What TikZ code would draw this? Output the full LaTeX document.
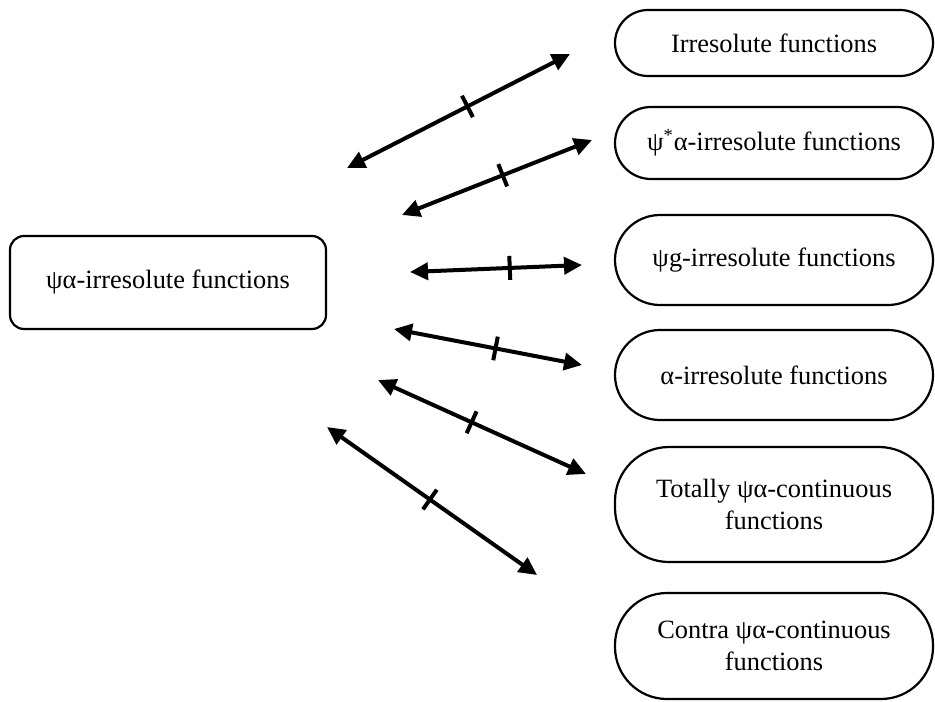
\documentclass[tikz,border=0pt]{standalone}
\usepackage{fontspec}
\setmainfont{Liberation Serif}
\usetikzlibrary{arrows.meta}
\begin{document}
\begin{tikzpicture}[x=0.5pt,y=-0.5pt,
  every node/.style={font=\fontsize{13.2}{16}\selectfont, align=center, inner sep=0pt},
  mainbox/.style={draw, line width=1.1pt, rounded corners=7pt, minimum width=158pt, minimum height=46.5pt},
  pill/.style={draw, line width=1.1pt, minimum width=159pt},
  dbl/.style={line width=2pt, {Triangle[length=9pt,width=8.5pt]}-{Triangle[length=9pt,width=8.5pt]}},
  tickmark/.style={draw, line width=2pt, sloped, minimum width=0pt, minimum height=12pt, inner sep=0pt}
]
\useasboundingbox (0,0) rectangle (935,701);

\node[mainbox] (main) at (168,282.5) {ψα-irresolute functions};

\node[pill, minimum height=33pt, rounded corners=16.5pt] (irr) at (774,43) {Irresolute functions};
\node[pill, minimum height=36pt, rounded corners=18pt] (psistar) at (774,143) {ψ\textsuperscript{*}α-irresolute functions};
\node[pill, minimum height=45pt, rounded corners=22.5pt] (psig) at (774,260) {ψg-irresolute functions};
\node[pill, minimum height=45pt, rounded corners=22.5pt] (alpha) at (774,375) {α-irresolute functions};
\node[pill, minimum height=57.5pt, rounded corners=27pt] (tot) at (774,504.5) {Totally ψα-continuous\\functions};
\node[pill, minimum height=53pt, rounded corners=26pt] (contra) at (774,646) {Contra ψα-continuous\\functions};

\coordinate (a1) at (347,168); \coordinate (b1) at (570,54);
\coordinate (a2) at (402,215); \coordinate (b2) at (592,140);
\coordinate (a3) at (410,272); \coordinate (b3) at (582,265);
\coordinate (a4) at (394,329); \coordinate (b4) at (582,365);
\coordinate (a5) at (378,380); \coordinate (b5) at (586,474);
\coordinate (a6) at (327,427); \coordinate (b6) at (537,575);

\draw[dbl] (a1) -- node[tickmark, pos=0.54]{} (b1);
\draw[dbl] (a2) -- node[tickmark, pos=0.53]{} (b2);
\draw[dbl] (a3) -- node[tickmark, pos=0.58]{} (b3);
\draw[dbl] (a4) -- node[tickmark, pos=0.54]{} (b4);
\draw[dbl] (a5) -- node[tickmark, pos=0.45]{} (b5);
\draw[dbl] (a6) -- node[tickmark, pos=0.49]{} (b6);
\end{tikzpicture}
\end{document}
